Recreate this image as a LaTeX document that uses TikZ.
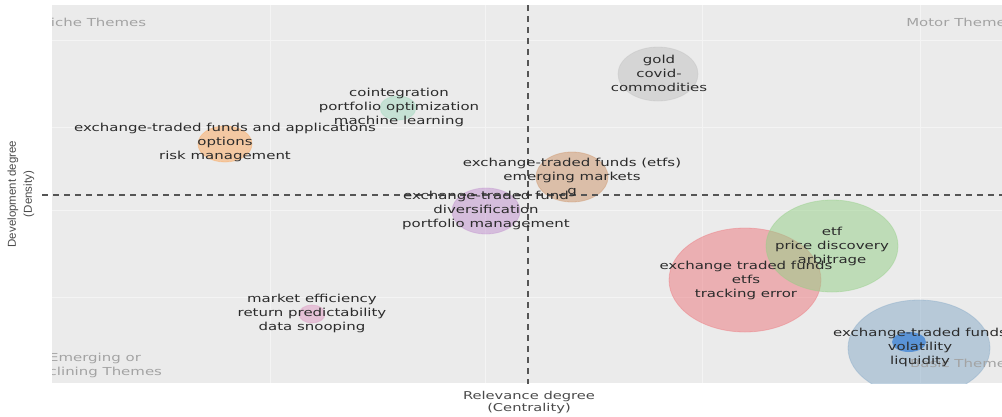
\documentclass[tikz,border=0pt]{standalone}
\usepackage{fontspec}
\setmainfont{DejaVu Sans}
\newfontfamily\lblfont[FakeStretch=1.36]{DejaVu Sans}
\newfontfamily\axfont{Liberation Sans}

\definecolor{panelbg}{HTML}{EBEBEB}
\definecolor{gridc}{HTML}{F4F4F4}
\definecolor{dashc}{HTML}{555555}
\definecolor{txtc}{HTML}{2B2B2B}
\definecolor{quadc}{HTML}{A3A3A3}
\definecolor{bred}{HTML}{EB757B}
\definecolor{bgreen}{HTML}{93CF85}
\definecolor{bblue}{HTML}{85A9C7}
\definecolor{borange}{HTML}{FBA75B}
\definecolor{bgray}{HTML}{C1C1C1}
\definecolor{bbrown}{HTML}{CD9367}
\definecolor{bpurple}{HTML}{C191CF}
\definecolor{bteal}{HTML}{A1D9BF}
\definecolor{bpink}{HTML}{E19BC5}
\definecolor{iconblue}{HTML}{3C82D6}

\tikzset{
  bubble/.style={fill=#1, draw=#1, fill opacity=0.5, draw opacity=0.4, line width=0.8pt},
  lbl/.style={font=\lblfont\fontsize{11}{14}\selectfont, text=txtc, align=center, inner sep=0pt},
  quad/.style={font=\lblfont\fontsize{11}{14}\selectfont, text=quadc, align=center, inner sep=0pt},
  axtitle/.style={font=\lblfont\fontsize{10.8}{12}\selectfont, text=txtc!85, align=center, inner sep=0pt},
  gridline/.style={draw=gridc, line width=1pt},
  quadline/.style={draw=dashc, line width=1.6pt, dash pattern=on 6pt off 5pt}
}

\begin{document}
\begin{tikzpicture}[x=1pt, y=-1pt]
  \useasboundingbox (0,0) rectangle (1002,416);
  \fill[white] (0,0) rectangle (1002,416);

  % plot panel and bubbles, clipped to the panel
  \begin{scope}
    \clip (52,5) rectangle (1002,383);
    \fill[panelbg] (52,5) rectangle (1002,383);
    \foreach \gx in {270,485,702,920} \draw[gridline] (\gx,5) -- (\gx,383);
    \foreach \gy in {40,127,210,297} \draw[gridline] (52,\gy) -- (1002,\gy);

    \filldraw[bubble=bblue]   (919,348) ellipse [x radius=71pt, y radius=48pt];
    \filldraw[bubble=bred]    (745,280) ellipse [x radius=76pt, y radius=52pt];
    \filldraw[bubble=bgreen]  (832,246) ellipse [x radius=66pt, y radius=46pt];
    \filldraw[bubble=bgray]   (658,74)  ellipse [x radius=40pt, y radius=27pt];
    \filldraw[bubble=bbrown]  (572,177) ellipse [x radius=36pt, y radius=25pt];
    \filldraw[bubble=bpurple] (486,211) ellipse [x radius=34pt, y radius=23pt];
    \filldraw[bubble=borange] (225,144) ellipse [x radius=27pt, y radius=18pt];
    \filldraw[bubble=bteal]   (398,108) ellipse [x radius=18pt, y radius=12pt];
    \filldraw[bubble=bpink]   (312,314) ellipse [x radius=13pt, y radius=9pt];
    \fill[iconblue, fill opacity=0.75] (909,342) ellipse [x radius=17pt, y radius=10pt];

    % quadrant names
    \node[quad] (niche) at (93,22) {Niche Themes};
    \node[quad] (motor) at (960,22) {Motor Themes};
    \node[quad] (emerg) at (95,365) {Emerging or\\Declining Themes};
    \node[quad] (basic) at (962,363) {Basic Themes};
  \end{scope}

  % quadrant separators
  \coordinate (hL) at (42,195);
  \coordinate (hR) at (1002,195);
  \coordinate (vT) at (528,5);
  \coordinate (vB) at (528,384);
  \draw[quadline] (hL) -- (hR);
  \draw[quadline] (vT) -- (vB);

  % cluster labels
  \node[lbl] (c1) at (225,142) {exchange-traded funds and applications\\options\\risk management};
  \node[lbl] (c2) at (399,107) {cointegration\\portfolio optimization\\machine learning};
  \node[lbl] (c3) at (659,73)  {gold\\covid-\\commodities};
  \node[lbl] (c4) at (572,177) {exchange-traded funds (etfs)\\emerging markets\\g};
  \node[lbl] (c5) at (486,210) {exchange-traded fund\\diversification\\portfolio management};
  \node[lbl] (c6) at (832,246) {etf\\price discovery\\arbitrage};
  \node[lbl] (c7) at (746,280) {exchange traded funds\\etfs\\tracking error};
  \node[lbl] (c8) at (920,347) {exchange-traded funds\\volatility\\liquidity};
  \node[lbl] (c9) at (312,313) {market efficiency\\return predictability\\data snooping};

  % axis titles
  \node[axtitle] (xt) at (529,403) {Relevance degree\\(Centrality)};
  \node[font=\axfont\fontsize{11.5}{16}\selectfont, text=txtc!85, align=center,
        inner sep=0pt, rotate=90] (yt) at (21,194) {Development degree\\(Density)};
\end{tikzpicture}
\end{document}
